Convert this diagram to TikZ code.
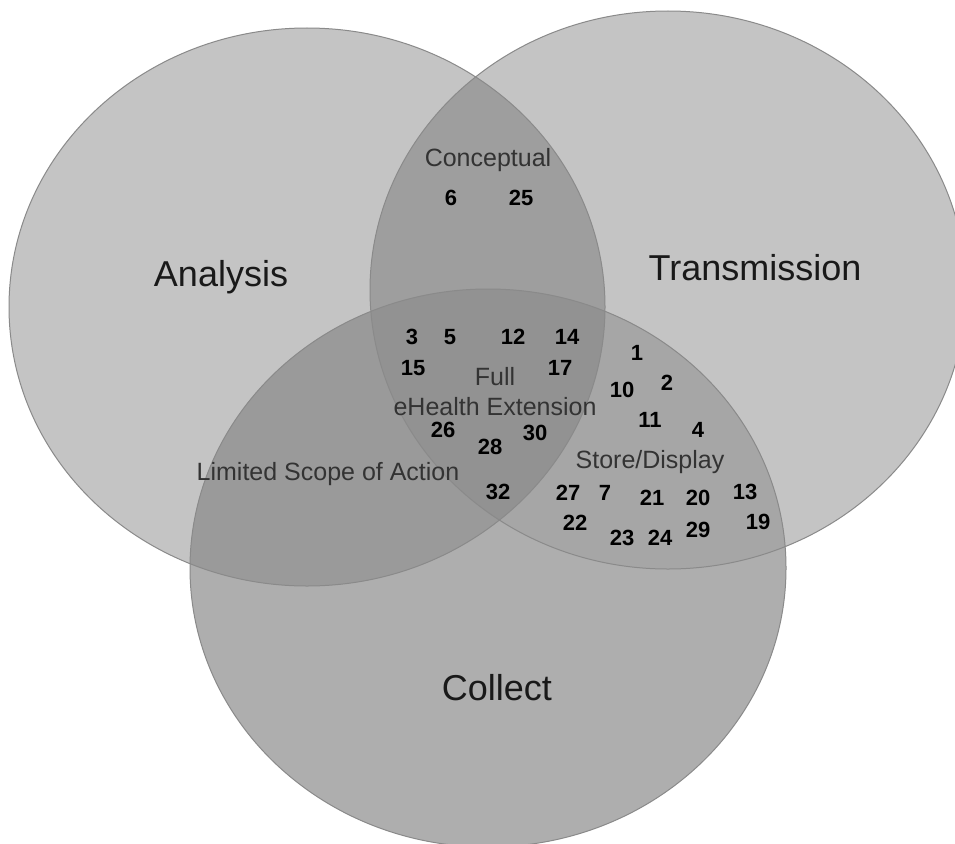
\documentclass[tikz,border=0pt]{standalone}
\usepackage{fontspec}
\setmainfont{Liberation Sans}
\definecolor{setfill}{HTML}{C4C4C4}
\definecolor{collectfill}{HTML}{AEAEAE}
\definecolor{atfill}{HTML}{9E9E9E}
\definecolor{acfill}{HTML}{9A9A9A}
\definecolor{tcfill}{HTML}{A6A6A6}
\definecolor{allfill}{HTML}{929292}
\definecolor{setline}{HTML}{8A8A8A}
\tikzset{
	setname/.style={font=\fontsize{36}{40}\selectfont, text=black!90},
	regionname/.style={font=\fontsize{25}{30}\selectfont, text=black!80, align=center},
	itemnum/.style={font=\fontsize{22}{24}\selectfont\bfseries, text=black},
	setedge/.style={draw=setline, line width=1pt}
}
\begin{document}
\begin{tikzpicture}[x=1pt, y=-1pt]
	% Page.
	\clip (0, 0) rectangle (955, 843);
	\fill[white] (0, 0) rectangle (955, 843);
	\coordinate (A) at (307, 307);
	\coordinate (T) at (668, 290);
	\coordinate (C) at (488, 568);
	% Single sets.
	\fill[setfill] (A) ellipse [x radius=298, y radius=279];
	\fill[setfill] (T) ellipse [x radius=298, y radius=279];
	\fill[collectfill] (C) ellipse [x radius=298, y radius=279];
	% Pairwise overlaps.
	\begin{scope}
		\clip (A) ellipse [x radius=298, y radius=279];
		\fill[atfill] (T) ellipse [x radius=298, y radius=279];
		\fill[acfill] (C) ellipse [x radius=298, y radius=279];
	\end{scope}
	\begin{scope}
		\clip (T) ellipse [x radius=298, y radius=279];
		\fill[tcfill] (C) ellipse [x radius=298, y radius=279];
		% Centre.
		\clip (A) ellipse [x radius=298, y radius=279];
		\fill[allfill] (C) ellipse [x radius=298, y radius=279];
	\end{scope}
	% Outlines.
	\draw[setedge] (A) ellipse [x radius=298, y radius=279];
	\draw[setedge] (T) ellipse [x radius=298, y radius=279];
	\draw[setedge] (C) ellipse [x radius=298, y radius=279];
	% Set names.
	\node[setname] (analysis) at (221, 277) {Analysis};
	\node[setname] (transmission) at (755, 268) {Transmission};
	\node[setname] (collect) at (497, 688) {Collect};
	% Region names.
	\node[regionname] (conceptual) at (488, 160) {Conceptual};
	\node[regionname] (full) at (495, 392) {Full\\eHealth Extension};
	\node[regionname] (limited) at (328, 474) {Limited Scope of Action};
	\node[regionname] (store) at (650, 462) {Store/Display};
	% Item numbers.
	\foreach \n/\x/\y in {6/451/198, 25/521/198,
		3/412/337, 5/450/337, 12/513/337, 14/567/337, 15/413/368, 17/560/368,
		26/443/430, 30/535/433, 28/490/447, 32/498/492,
		1/637/353, 10/622/390, 2/667/383, 11/650/420, 4/698/430,
		27/568/493, 7/605/493, 21/652/498, 20/698/498, 13/745/492,
		22/575/523, 23/622/538, 24/660/538, 29/698/530, 19/758/522}
		\node[itemnum] (item\n) at (\x, \y) {\n};
\end{tikzpicture}
\end{document}
